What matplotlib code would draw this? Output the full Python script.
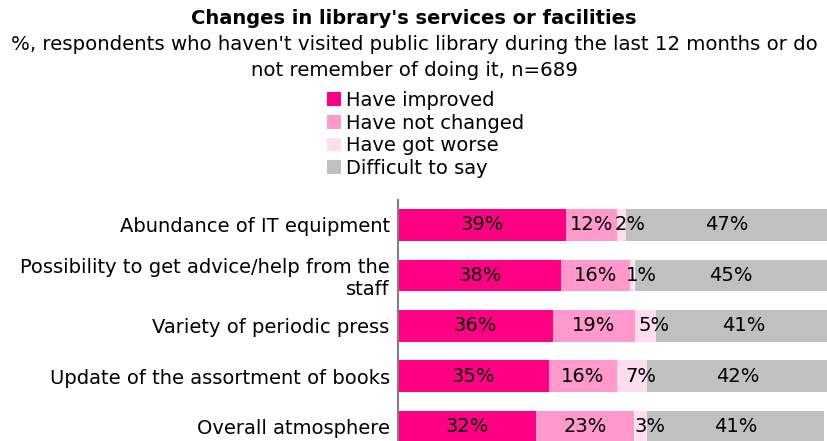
import matplotlib
matplotlib.use("Agg")
import matplotlib.pyplot as plt
from matplotlib.patches import Patch

categories = [
    "Abundance of IT equipment",
    "Possibility to get advice/help from the\nstaff",
    "Variety of periodic press",
    "Update of the assortment of books",
    "Overall atmosphere",
]
series_names = ["Have improved", "Have not changed", "Have got worse", "Difficult to say"]
improved = [39, 38, 36, 35, 32]
not_changed = [12, 16, 19, 16, 23]
got_worse = [2, 1, 5, 7, 3]
difficult = [47, 45, 41, 42, 41]
colors = ["#FF0084", "#FF99CC", "#FFDDEE", "#C0C0C0"]
label_nudge = [0, 0, 2, 0]  # small segments: push label right a little

W, H = 828, 441
FS = 14
fig = plt.figure(figsize=(W / 100, H / 100), dpi=100)
font = "DejaVu Sans"

fig.text(0.5, 1 - 18 / H, "Changes in library's services or facilities",
         ha="center", va="center", fontsize=FS, fontweight="bold", family=font)
fig.text(0.5, 1 - 45 / H,
         "%, respondents who haven't visited public library during the last 12 months or do",
         ha="center", va="center", fontsize=FS + 0.2, family=font)
fig.text(0.5, 1 - 70 / H, "not remember of doing it, n=689",
         ha="center", va="center", fontsize=FS + 0.2, family=font)

ax = fig.add_axes([398 / W, 0, 1 - 398 / W, 1 - 200 / H])
series = [improved, not_changed, got_worse, difficult]
ys = list(range(len(categories)))
left = [0] * len(categories)
for vals, col, nudge in zip(series, colors, label_nudge):
    ax.barh(ys, vals, left=left, height=0.63, color=col, edgecolor="none")
    for y, l, v in zip(ys, left, vals):
        ax.text(l + v / 2 + nudge, y, f"{v}%", ha="center", va="center",
                fontsize=FS, family=font, color="black")
    left = [a + b for a, b in zip(left, vals)]

ax.set_xlim(0, 100)
ax.set_ylim(4.28, -0.495)
ax.set_yticks(ys)
ax.set_yticklabels(categories, fontsize=FS, family=font, linespacing=1.15)
ax.tick_params(axis="y", length=0, pad=6)
ax.set_xticks([])
for s in ["top", "right", "bottom"]:
    ax.spines[s].set_visible(False)
ax.spines["left"].set_color("#808080")
ax.spines["left"].set_linewidth(1.5)

handles = [Patch(facecolor=c, edgecolor="none") for c in colors]
fig.legend(handles, series_names, loc="upper left",
           bbox_to_anchor=(327 / W, 1 - 91 / H), frameon=False,
           prop={"family": font, "size": FS}, handlelength=0.7,
           handleheight=0.7, handletextpad=0.3, labelspacing=0.19,
           borderpad=0, borderaxespad=0)

fig.savefig("out.png", dpi=100)
